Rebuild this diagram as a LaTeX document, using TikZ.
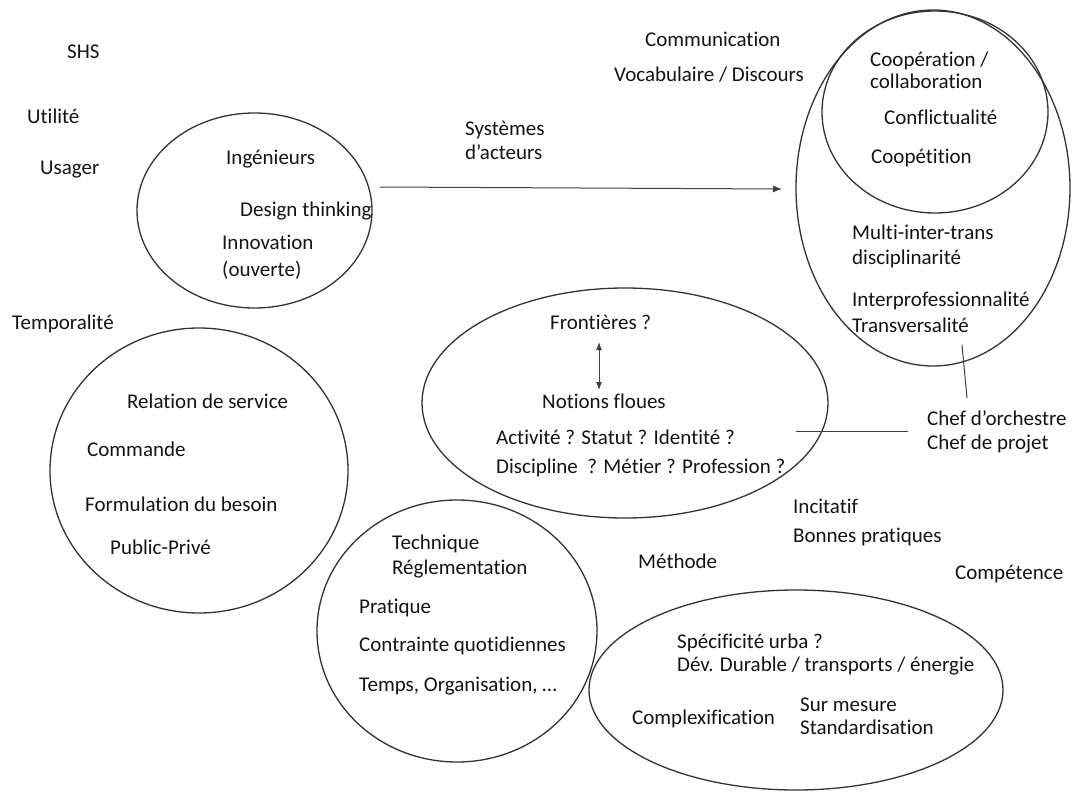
\documentclass[tikz,border=0pt]{standalone}
\usepackage{fontspec}
\setmainfont{Carlito}[Ligatures=NoCommon]
\usetikzlibrary{arrows.meta,shapes.geometric}
\begin{document}
\begin{tikzpicture}[x=1pt,y=-1pt,
  lbl/.style={anchor=west,inner sep=0pt,text height=13pt,text depth=0pt,font=\fontsize{21}{25}\selectfont,text=black!92},
  blob/.style={draw=black!80,line width=1.3pt,ellipse,inner sep=0pt},
  link/.style={draw=black!75,line width=1pt},
  tip/.style={-{Latex[length=9pt,width=7pt]}},
  dtip/.style={{Latex[length=8pt,width=6pt]}-{Latex[length=8pt,width=6pt]}}]
\useasboundingbox (0,0) rectangle (1072,792);
\fill[white] (0,0) rectangle (1072,792);

% ellipses
\node[blob,minimum width=274pt,minimum height=356pt] (big) at (933,188) {};
\node[blob,minimum width=226pt,minimum height=202pt] (coop) at (935,112) {};
\node[blob,minimum width=235pt,minimum height=195pt] (ing) at (254.5,210.5) {};
\node[blob,minimum width=298pt,minimum height=285pt] (serv) at (199,470.5) {};
\node[blob,minimum width=406pt,minimum height=230pt] (front) at (625,403) {};
\node[blob,minimum width=280pt,minimum height=262pt] (tech) at (457,631) {};
\node[blob,minimum width=414pt,minimum height=200pt] (urba) at (796,690) {};

% free labels
\node[lbl] (shs) at (67,52) {SHS};
\node[lbl] (util) at (27,117) {Utilité};
\node[lbl] (usag) at (40,168) {Usager};
\node[lbl] (temp) at (12,323) {Temporalité};
\node[lbl] (comm) at (645,40) {Communication};
\node[lbl] (voc) at (614,75) {Vocabulaire / Discours};
\node[lbl] (sys1) at (465,129) {Systèmes};
\node[lbl] (sys2) at (465,153) {d’acteurs};
\node[lbl] (meth) at (638,562) {Méthode};
\node[lbl] (inc) at (793,507) {Incitatif};
\node[lbl] (bonnes) at (793,536) {Bonnes pratiques};
\node[lbl] (compet) at (955,573) {Compétence};
\node[lbl] (chef1) at (927,419) {Chef d’orchestre};
\node[lbl] (chef2) at (927,443) {Chef de projet};

% ingenieurs
\node[lbl] (ingt) at (226,158) {Ingénieurs};
\node[lbl] (design) at (240,210) {Design thinking};
\node[lbl] (innov) at (222,243) {Innovation};
\node[lbl] (ouv) at (222,270) {(ouverte)};

% cooperation
\node[lbl] (coop1) at (870,60) {Coopération /};
\node[lbl] (coop2) at (870,82) {collaboration};
\node[lbl] (confl) at (884,118) {Conflictualité};
\node[lbl] (coopet) at (871,157) {Coopétition};
\node[lbl] (multi) at (852,233) {Multi-inter-trans};
\node[lbl] (disc) at (852,258) {disciplinarité};
\node[lbl] (interp) at (852,300) {Interprofessionnalité};
\node[lbl] (transv) at (852,326) {Transversalité};

% frontieres
\node[lbl] (frt) at (550,323) {Frontières ?};
\node[lbl] (notions) at (542,402) {Notions floues};
\node[lbl] (activ) at (496,438) {Activité ? Statut ? Identité ?};
\node[lbl] (discip) at (496,467) {Discipline \ ? Métier ? Profession ?};

% service
\node[lbl] (rel) at (127,402) {Relation de service};
\node[lbl] (cmd) at (87,450) {Commande};
\node[lbl] (form) at (85,505) {Formulation du besoin};
\node[lbl] (pub) at (110,548) {Public-Privé};

% technique
\node[lbl] (techt) at (392,543) {Technique};
\node[lbl] (regl) at (392,568) {Réglementation};
\node[lbl] (prat) at (359,607) {Pratique};
\node[lbl] (contr) at (359,645) {Contrainte quotidiennes};
\node[lbl] (temps) at (359,685) {Temps, Organisation, …};

% urba
\node[lbl] (spec) at (677,642) {Spécificité urba ?};
\node[lbl] (dev) at (677,665) {Dév. Durable / transports / énergie};
\node[lbl] (cplx) at (632,718) {Complexification};
\node[lbl] (surm) at (800,705) {Sur mesure};
\node[lbl] (std) at (800,728) {Standardisation};

% connectors
\coordinate (a1) at (380,187);
\coordinate (a2) at (782,189);
\draw[link,tip] (a1) -- (a2);
\coordinate (d1) at (599,342);
\coordinate (d2) at (599,390);
\draw[link,dtip] (d1) -- (d2);
\coordinate (h1) at (796,431);
\coordinate (h2) at (908,431);
\draw[link] (h1) -- (h2);
\coordinate (v1) at (962,345);
\coordinate (v2) at (967,398);
\draw[link] (v1) -- (v2);
\end{tikzpicture}
\end{document}
